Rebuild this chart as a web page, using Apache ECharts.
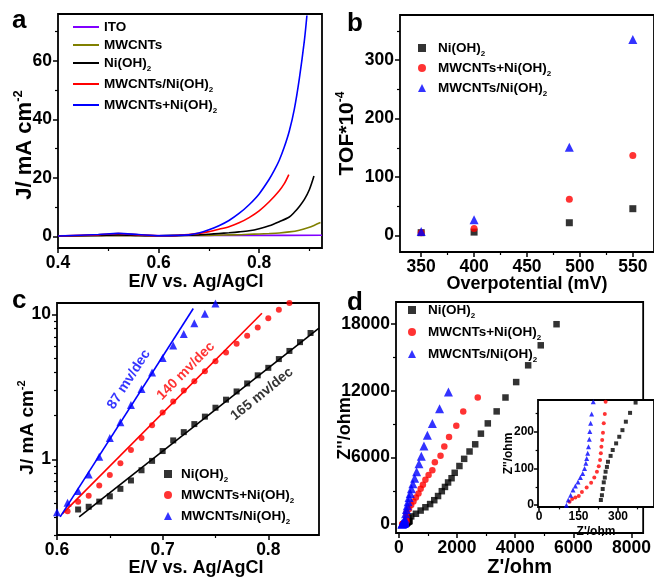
<!DOCTYPE html>
<html>
<head>
<meta charset="utf-8">
<script src="https://cdn.jsdelivr.net/npm/echarts@6/dist/echarts.min.js"></script>
<style>
  html, body { margin: 0; background: #fff; }
  #chart { width: 654px; height: 578px; }
</style>
</head>
<body>
<div id="chart"></div>
<script>
// ---- panel a: LSV curves (E / V, J / mA cm-2)
const lsvItoE = [0.40, 0.50, 0.60, 0.70, 0.80, 0.925];
const lsvItoJ = [0.2, 0.3, 0.25, 0.3, 0.3, 0.35];
const lsvCntE = [0.40, 0.50, 0.60, 0.66, 0.70, 0.72, 0.74, 0.76, 0.78, 0.80, 0.82, 0.84, 0.86, 0.88, 0.90, 0.91, 0.922];
const lsvCntJ = [0.1, 0.2, 0.2, 0.25, 0.3, 0.4, 0.48, 0.55, 0.7, 0.8, 0.95, 1.15, 1.5, 2.1, 3.1, 3.8, 4.7];
const lsvNiE = [0.40, 0.48, 0.52, 0.56, 0.60, 0.64, 0.68, 0.70, 0.72, 0.74, 0.76, 0.78, 0.80, 0.82, 0.84, 0.86, 0.87, 0.88, 0.89, 0.90, 0.909];
const lsvNiJ = [0.1, 0.3, 0.5, 0.3, 0.2, 0.3, 0.5, 0.7, 0.95, 1.2, 1.5, 1.9, 2.6, 3.6, 5.0, 6.6, 8.2, 10.2, 12.6, 16.0, 20.6];
const lsvCompE = [0.40, 0.48, 0.52, 0.56, 0.60, 0.62, 0.64, 0.66, 0.68, 0.70, 0.72, 0.74, 0.76, 0.78, 0.80, 0.82, 0.84, 0.85, 0.859];
const lsvCompJ = [0.1, 0.5, 0.9, 0.5, 0.2, 0.2, 0.35, 0.6, 1.0, 1.6, 2.4, 3.3, 4.6, 6.4, 8.7, 11.8, 15.6, 18.0, 21.1];
const lsvMixE = [0.40, 0.48, 0.52, 0.56, 0.60, 0.64, 0.66, 0.68, 0.70, 0.72, 0.74, 0.76, 0.78, 0.80, 0.82, 0.83, 0.84, 0.85, 0.86, 0.87, 0.88, 0.89, 0.895];
const lsvMixJ = [0.1, 0.6, 1.0, 0.6, 0.2, 0.3, 0.5, 1.1, 2.2, 3.6, 5.4, 7.8, 10.8, 14.5, 19.5, 22.5, 26, 30.5, 36, 43.5, 54, 67, 75.5];

// ---- panel b: TOF*10^-4 vs overpotential
const overpotential = [350, 400, 490, 550];
const tofNi = [5, 6, 22, 46];
const tofMix = [5, 12, 62, 137];
const tofComp = [7, 27, 151, 335];

// ---- panel c: Tafel plots
const tafelNiE = [0.62, 0.63, 0.64, 0.65, 0.66, 0.67, 0.68, 0.69, 0.70, 0.71, 0.72, 0.73, 0.74, 0.75, 0.76, 0.77, 0.78, 0.79, 0.80, 0.81, 0.82, 0.83, 0.84, 0.85];
const tafelNiJ = [0.45, 0.47, 0.51, 0.555, 0.625, 0.714, 0.84, 0.975, 1.14, 1.35, 1.54, 1.75, 1.97, 2.27, 2.58, 2.94, 3.34, 3.80, 4.28, 4.92, 5.6, 6.44, 7.45, 8.57];
const tafelMixE = [0.61, 0.62, 0.63, 0.64, 0.65, 0.66, 0.67, 0.68, 0.69, 0.70, 0.71, 0.72, 0.73, 0.74, 0.75, 0.76, 0.77, 0.78, 0.79, 0.80, 0.81, 0.82];
const tafelMixJ = [0.437, 0.51, 0.56, 0.66, 0.78, 0.94, 1.16, 1.40, 1.72, 2.10, 2.51, 2.98, 3.46, 4.06, 4.75, 5.46, 6.28, 7.14, 8.13, 9.4, 10.8, 12.0];
const tafelCompE = [0.60, 0.61, 0.62, 0.63, 0.64, 0.65, 0.66, 0.67, 0.68, 0.69, 0.70, 0.71, 0.72, 0.73, 0.74, 0.75];
const tafelCompJ = [0.43, 0.50, 0.605, 0.785, 1.04, 1.40, 1.80, 2.37, 3.06, 3.97, 5.0, 6.1, 7.33, 8.7, 10.1, 11.9];
const fitNi = [[0.621, 0.40], [0.848, 8.05]];
const fitMix = [[0.605, 0.42], [0.794, 10.2]];
const fitComp = [[0.603, 0.40], [0.729, 11.0]];

// ---- panel d: Nyquist plots (Z' , Z'')
const insetNi = [[367, 279], [346, 251], [330, 227], [317, 204], [305, 186], [293, 168], [280, 150], [272, 134], [262, 118], [258, 104], [253, 91], [250, 75], [246, 62], [242, 44], [239, 27], [235, 14]];
const insetMix = [[253, 281], [250, 248], [246, 223], [243, 197], [240, 177], [237, 159], [235, 141], [232, 123], [227, 106], [220, 91], [210, 75], [198, 61], [181, 48], [163, 36], [151, 25], [138, 21], [126, 17], [116, 9]];
const insetComp = [[206, 281], [200, 248], [196, 223], [193, 200], [191, 179], [188, 159], [185, 141], [181, 127], [178, 114], [173, 100], [166, 86], [157, 75], [148, 63], [138, 52], [129, 41], [120, 27], [111, 14], [104, 0]];
const eisNi = [[330, 560], [423, 698], [585, 933], [748, 1221], [911, 1517], [1073, 1805], [1216, 2154], [1346, 2529], [1476, 2965], [1584, 3348], [1691, 3750], [1811, 4133], [1919, 4622], [2081, 5232], [2244, 5877], [2429, 6540], [2624, 7185], [2820, 8145], [3057, 9070], [3362, 10150], [3665, 11400], [4033, 12790], [4445, 14300], [4878, 16100], [5421, 18000]];
const eisMix = [[255, 450], [258, 700], [260, 1020], [348, 1369], [423, 1718], [501, 2040], [585, 2389], [673, 2764], [748, 3174], [826, 3549], [911, 3985], [1021, 4421], [1150, 4857], [1236, 5581], [1431, 6165], [1561, 6978], [1724, 7850], [1974, 8868], [2212, 10150], [2711, 11400]];
const eisComp = [[212, 450], [230, 933], [260, 1308], [290, 1657], [320, 2006], [350, 2389], [390, 2764], [430, 3174], [480, 3636], [540, 4133], [610, 4709], [690, 5441], [770, 6104], [860, 7037], [980, 7996], [1150, 9069], [1398, 10377], [1704, 11890]];

const FONT = '"Liberation Sans", Arial, sans-serif';
const BLACK = '#000000', RED = '#ff0000', BLUE = '#0000ff', PURPLE = '#8000ff', OLIVE = '#808000';

const pairs = (xs, ys) => xs.map((x, i) => [x, ys[i]]);

function nameRich(size) {
  return {
    t: { fontSize: size, fontWeight: 'bold', fontFamily: FONT, color: '#000', lineHeight: size + 4 },
    p: { fontSize: Math.round(size * 0.58), fontWeight: 'bold', fontFamily: FONT, color: '#000',
         lineHeight: Math.round(size * 0.58), verticalAlign: 'top' }
  };
}

// one axis with labels + major ticks, one overlaid axis carrying only the minor ticks
function axisPair(dim, grid, type, min, max, major, minor, cfg) {
  cfg = cfg || {};
  const base = {
    type: type, gridIndex: grid, min: min, max: max,
    position: dim === 'x' ? 'bottom' : 'left',
    splitLine: { show: false },
    axisLine: { show: false, onZero: false },
    z: cfg.z || 0
  };
  if (type === 'log') base.logBase = 10;
  const tick = cfg.tick || 5;
  const main = Object.assign({}, base, {
    axisTick: { show: true, length: tick, customValues: major, lineStyle: { color: '#000', width: 1.5 } },
    axisLabel: { customValues: major, fontSize: cfg.fontSize || 17.5, fontWeight: 'bold', color: '#000',
                 fontFamily: FONT, margin: cfg.margin || 6, formatter: v => String(v) },
    name: cfg.name || '',
    nameLocation: 'middle',
    nameGap: cfg.gap || 20,
    nameMoveOverlap: false,
    nameRotate: dim === 'y' ? 90 : 0,
    nameTextStyle: { rich: nameRich(cfg.nameSize || 18), padding: cfg.pad || 0 }
  });
  const sub = Object.assign({}, base, {
    axisTick: { show: true, length: tick * 0.6, customValues: minor, lineStyle: { color: '#000', width: 1.2 } },
    axisLabel: { show: false }
  });
  return [main, sub];
}

function legendRich(gap) {
  return {
    g: { width: gap },
    m: { fontSize: 13.5, fontWeight: 'bold', fontFamily: FONT, color: '#000', lineHeight: 16 },
    n: { fontSize: 13.5, fontWeight: 'bold', fontFamily: FONT, color: '#000', lineHeight: 20 },
    s: { fontSize: 8, fontWeight: 'bold', fontFamily: FONT, color: '#000', lineHeight: 8, verticalAlign: 'bottom' }
  };
}

const legendText = {
  'a-ito': '{m|ITO}',
  'a-cnt': '{m|MWCNTs}',
  'a-ni': '{n|Ni(OH)}{s|2}',
  'a-comp': '{n|MWCNTs/Ni(OH)}{s|2}',
  'a-mix': '{n|MWCNTs+Ni(OH)}{s|2}',
  'b-ni': '{g| }{n|Ni(OH)}{s|2}',
  'b-mix': '{g| }{n|MWCNTs+Ni(OH)}{s|2}',
  'b-comp': '{g| }{n|MWCNTs/Ni(OH)}{s|2}',
  'c-ni': '{g| }{n|Ni(OH)}{s|2}',
  'c-mix': '{g| }{n|MWCNTs+Ni(OH)}{s|2}',
  'c-comp': '{g| }{n|MWCNTs/Ni(OH)}{s|2}',
  'd-ni': '{g| }{n|Ni(OH)}{s|2}',
  'd-mix': '{g| }{n|MWCNTs+Ni(OH)}{s|2}',
  'd-comp': '{g| }{n|MWCNTs/Ni(OH)}{s|2}'
};

function legendBox(names, left, top, iw, ih, gap, textGap, icon) {
  const box = {
    data: names, left: left, top: top, orient: 'vertical',
    itemWidth: iw, itemHeight: ih, itemGap: gap, selectedMode: false,
    formatter: n => legendText[n],
    textStyle: { rich: legendRich(textGap) }
  };
  if (icon) box.icon = icon;
  return box;
}

function lineSeries(name, data, color, xi) {
  return {
    name: name, type: 'line', xAxisIndex: xi, yAxisIndex: xi, data: data,
    symbol: 'none', smooth: 0.3, lineStyle: { color: color, width: 1.6 }, itemStyle: { color: color }
  };
}
function dots(name, data, color, symbol, size, xi, z) {
  return {
    name: name, type: 'scatter', xAxisIndex: xi, yAxisIndex: xi, data: data,
    symbol: symbol, symbolSize: size, itemStyle: { color: color }, z: z || 2
  };
}
function slopeNote(text, at, angle, color) {
  return {
    type: 'scatter', xAxisIndex: 4, yAxisIndex: 4, data: [at], symbolSize: 1, silent: true,
    itemStyle: { color: 'rgba(0,0,0,0)' },
    label: { show: true, position: 'inside', formatter: text, rotate: angle, color: color,
             fontSize: 14, fontWeight: 'bold', fontFamily: FONT }
  };
}

const gridStyle = { show: true, borderColor: '#000', borderWidth: 1.8, backgroundColor: 'rgba(0,0,0,0)' };

const option = {
  animation: false,
  backgroundColor: '#fff',
  textStyle: { fontFamily: FONT },
  grid: [
    Object.assign({ left: 58, top: 14, width: 264, height: 234 }, gridStyle),
    Object.assign({ left: 400, top: 15, width: 258, height: 237 }, gridStyle),
    Object.assign({ left: 57, top: 303, width: 262, height: 237 }, gridStyle),
    Object.assign({ left: 396, top: 302, width: 261, height: 238 }, gridStyle),
    Object.assign({ left: 538, top: 400, width: 119, height: 107, z: 10 }, gridStyle, { backgroundColor: '#fff' })
  ],
  xAxis: [].concat(
    axisPair('x', 0, 'value', 0.4, 0.925, [0.4, 0.6, 0.8], [0.5, 0.7, 0.9],
      { name: '{t|E/V vs. Ag/AgCl}', gap: 23, pad: [0, 0, 0, 12] }),
    axisPair('x', 1, 'value', 330, 570, [350, 400, 450, 500, 550], [375, 425, 475, 525],
      { name: '{t|Overpotential (mV)}', gap: 21 }),
    axisPair('x', 2, 'value', 0.6, 0.848, [0.6, 0.7, 0.8], [0.65, 0.75],
      { name: '{t|E/V vs. Ag/AgCl}', gap: 22, pad: [0, 0, 0, 16] }),
    axisPair('x', 3, 'value', -100, 8400, [0, 2000, 4000, 6000, 8000], [1000, 3000, 5000, 7000],
      { name: "{t|Z'/ohm}", gap: 22, nameSize: 20 }),
    axisPair('x', 4, 'value', -4, 437, [0, 150, 300], [75, 225, 375],
      { name: "{t|Z'/ohm}", gap: 17, fontSize: 12, margin: 4, tick: 4, nameSize: 12, z: 11 })
  ),
  yAxis: [].concat(
    axisPair('y', 0, 'value', -4, 76, [0, 20, 40, 60], [10, 30, 50, 70],
      { name: '{t|J/ mA cm}{p|-2}', gap: 20, nameSize: 22, pad: [0, 28, 0, 0] }),
    axisPair('y', 1, 'value', -28, 377, [0, 100, 200, 300], [50, 150, 250, 350],
      { name: '{t|TOF*10}{p|-4}', gap: 40, nameSize: 21 }),
    axisPair('y', 2, 'log', 0.3, 12, [1, 10], [0.3, 0.4, 0.5, 0.6, 0.7, 0.8, 0.9, 2, 3, 4, 5, 6, 7, 8, 9],
      { name: '{t|J/ mA cm}{p|-2}', gap: 18, nameSize: 19, pad: [0, 17, 0, 0] }),
    axisPair('y', 3, 'value', -800, 20000, [0, 6000, 12000, 18000], [3000, 9000, 15000],
      { name: "{t|Z''/ohm}", gap: 40, nameSize: 18, pad: [0, 22, 0, 0] }),
    axisPair('y', 4, 'value', -5, 286, [0, 100, 200], [50, 150, 250],
      { name: "{t|Z''/ohm}", gap: 21, fontSize: 12, margin: 4, tick: 4, nameSize: 12, z: 11 })
  ),
  legend: [
    legendBox(['a-ito', 'a-cnt', 'a-ni', 'a-comp', 'a-mix'], 68, 15, 26, 2, 4, 0, 'rect'),
    legendBox(['b-ni', 'b-mix', 'b-comp'], 413, 36, 8, 8, 3, 7),
    legendBox(['c-ni', 'c-mix', 'c-comp'], 159, 462, 8, 8, 4, 4),
    legendBox(['d-ni', 'd-mix', 'd-comp'], 403, 298, 8, 8, 5, 7)
  ],
  graphic: [
    { type: 'text', x: 12, y: 21, style: { text: 'a', font: 'bold 26px ' + FONT, fill: '#000', verticalAlign: 'middle' } },
    { type: 'text', x: 347, y: 24, style: { text: 'b', font: 'bold 26px ' + FONT, fill: '#000', verticalAlign: 'middle' } },
    { type: 'text', x: 12, y: 301, style: { text: 'c', font: 'bold 26px ' + FONT, fill: '#000', verticalAlign: 'middle' } },
    { type: 'text', x: 347, y: 303, style: { text: 'd', font: 'bold 26px ' + FONT, fill: '#000', verticalAlign: 'middle' } }
  ],
  series: [
    // a
    lineSeries('a-ito', pairs(lsvItoE, lsvItoJ), PURPLE, 0),
    lineSeries('a-cnt', pairs(lsvCntE, lsvCntJ), OLIVE, 0),
    lineSeries('a-ni', pairs(lsvNiE, lsvNiJ), BLACK, 0),
    lineSeries('a-comp', pairs(lsvCompE, lsvCompJ), RED, 0),
    lineSeries('a-mix', pairs(lsvMixE, lsvMixJ), BLUE, 0),
    // b
    dots('b-ni', pairs(overpotential, tofNi), BLACK, 'rect', 7, 2),
    dots('b-mix', pairs(overpotential, tofMix), RED, 'circle', 7, 2),
    dots('b-comp', pairs(overpotential, tofComp), BLUE, 'triangle', 9, 2),
    // c
    lineSeries('c-fit-ni', fitNi, BLACK, 4),
    lineSeries('c-fit-mix', fitMix, RED, 4),
    lineSeries('c-fit-comp', fitComp, BLUE, 4),
    dots('c-ni', pairs(tafelNiE, tafelNiJ), BLACK, 'rect', 6, 4),
    dots('c-mix', pairs(tafelMixE, tafelMixJ), RED, 'circle', 6, 4),
    dots('c-comp', pairs(tafelCompE, tafelCompJ), BLUE, 'triangle', 8, 4),
    slopeNote('87 mv/dec', [0.668, 3.56], 57, BLUE),
    slopeNote('140 mv/dec', [0.722, 4.07], 45, RED),
    slopeNote('165 mv/dec', [0.794, 2.82], 39, BLACK),
    // d
    dots('d-ni', insetNi.concat(eisNi), BLACK, 'rect', 6.5, 6),
    dots('d-mix', insetMix.concat(eisMix), RED, 'circle', 6.5, 6),
    dots('d-comp', insetComp.concat(eisComp), BLUE, 'triangle', 9, 6),
    // d inset
    dots('e-ni', insetNi, BLACK, 'rect', 4, 8, 12),
    dots('e-mix', insetMix, RED, 'circle', 4, 8, 12),
    dots('e-comp', insetComp, BLUE, 'triangle', 5, 8, 12)
  ]
};

const chart = echarts.init(document.getElementById('chart'), null, { renderer: 'canvas' });
chart.setOption(option);
</script>
</body>
</html>
